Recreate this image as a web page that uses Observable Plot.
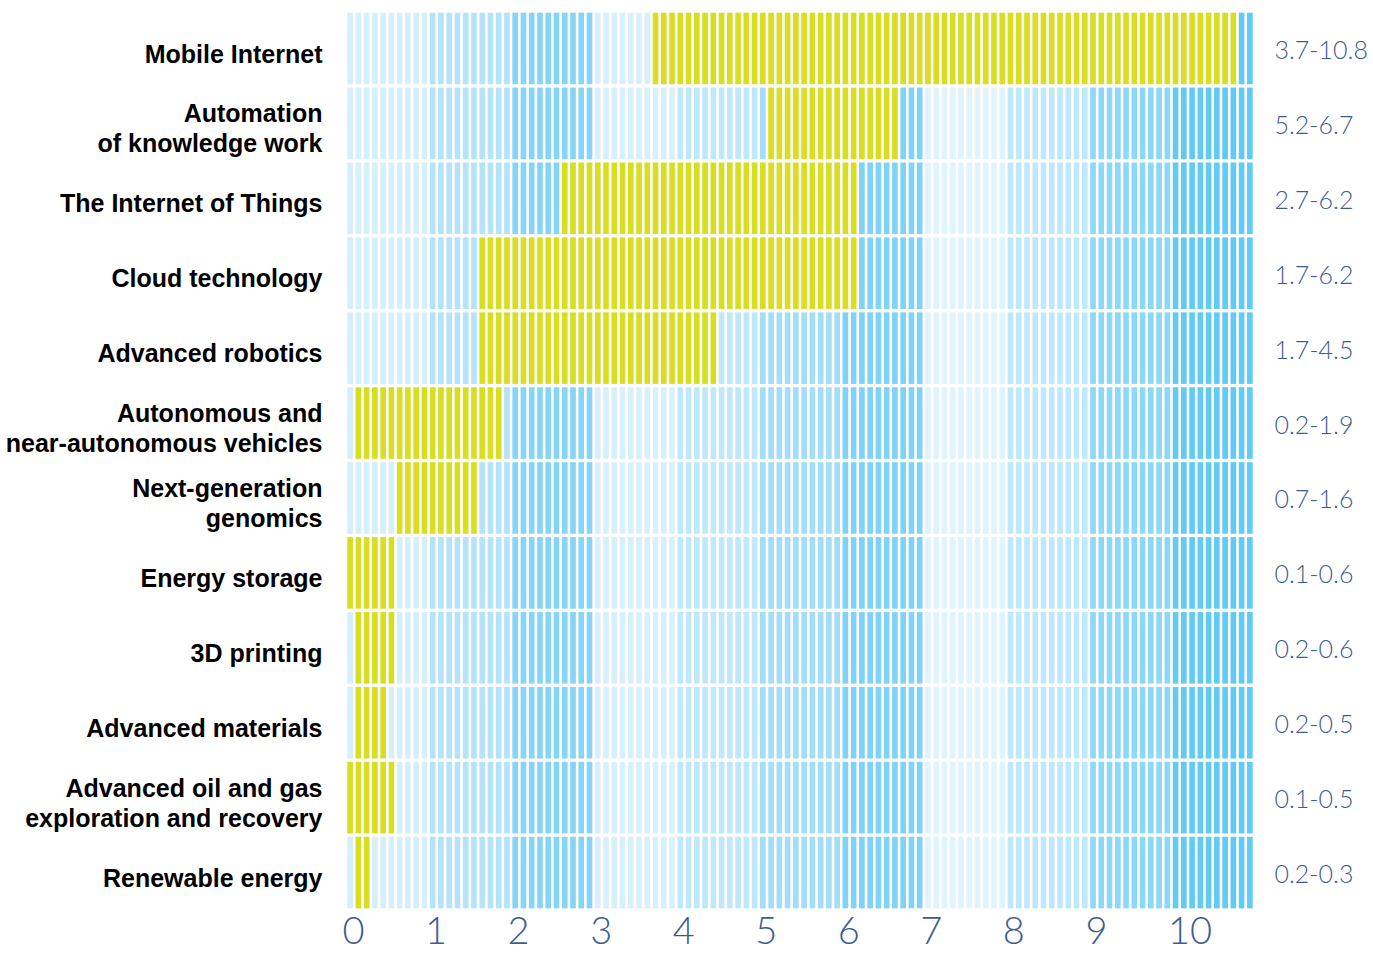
<!DOCTYPE html>
<html><head><meta charset="utf-8">
<script src="https://cdn.jsdelivr.net/npm/d3@7"></script>
<script src="https://cdn.jsdelivr.net/npm/@observablehq/plot@0.6"></script>
<style>body{margin:0;background:#fff}</style>
</head><body><div id="chart"></div>
<script>
const categories = [
  "Mobile Internet", "Automation of knowledge work", "The Internet of Things",
  "Cloud technology", "Advanced robotics", "Autonomous and near-autonomous vehicles",
  "Next-generation genomics", "Energy storage", "3D printing", "Advanced materials",
  "Advanced oil and gas exploration and recovery", "Renewable energy"
];
const categoryLabels = [
  "Mobile Internet", "Automation\nof knowledge work", "The Internet of Things",
  "Cloud technology", "Advanced robotics", "Autonomous and\nnear-autonomous vehicles",
  "Next-generation\ngenomics", "Energy storage", "3D printing", "Advanced materials",
  "Advanced oil and gas\nexploration and recovery", "Renewable energy"
];
const rangeLabels = ["3.7-10.8", "5.2-6.7", "2.7-6.2", "1.7-6.2", "1.7-4.5", "0.2-1.9",
  "0.7-1.6", "0.1-0.6", "0.2-0.6", "0.2-0.5", "0.1-0.5", "0.2-0.3"];
// highlighted span as drawn in the picture
const highlightStart = [3.7, 5.1, 2.6, 1.6, 1.6, 0.1, 0.6, 0.0, 0.1, 0.1, 0.0, 0.1];
const highlightEnd   = [10.8, 6.7, 6.2, 6.2, 4.5, 1.9, 1.6, 0.6, 0.6, 0.5, 0.6, 0.3];
const xTicks = [0, 1, 2, 3, 4, 5, 6, 7, 8, 9, 10];
const scaleMax = 11;
const step = 0.1;

const bandColors = ["#d6effc", "#b4e3fa", "#86d4f6", "#d8f0fc", "#bfe8fb", "#a3ddf8",
  "#80d2f6", "#e1f4fd", "#c0e8fb", "#8ed8f7", "#62cbf3"];
const highlightColor = "#d8df22";
const textBlue = "#3d5d8f";

const rows = categories.map((c, r) => ({cat: c, label: categoryLabels[r], range: rangeLabels[r]}));
const nCells = Math.round(scaleMax / step);
const cells = [];
categories.forEach((c, r) => {
  const s = Math.round(highlightStart[r] / step), e = Math.round(highlightEnd[r] / step);
  for (let i = 0; i < nCells; i++) {
    cells.push({
      cat: c, x1: i * step, x2: (i + 1) * step,
      fill: (i >= s && i < e) ? highlightColor : bandColors[Math.floor(i * step + 1e-9)]
    });
  }
});

const plot = Plot.plot({
  width: 1373, height: 953,
  marginLeft: 346, marginRight: 119, marginTop: 11, marginBottom: 43,
  x: {domain: [0, scaleMax], axis: null},
  y: {domain: categories, axis: null, padding: 0, round: false},
  color: {type: "identity"},
  marks: [
    Plot.barX(cells, {x1: "x1", x2: "x2", y: "cat", fill: "fill",
      insetLeft: 1.3, insetRight: 1.3, insetTop: 1.65, insetBottom: 1.65}),
    Plot.text(rows, {y: "cat", text: "label", frameAnchor: "left", textAnchor: "end",
      lineAnchor: "middle", dx: -24, dy: 4, lineHeight: 1.2, fontSize: 25, fontWeight: "bold",
      fontFamily: "'Liberation Sans', Arial, Helvetica, sans-serif", fill: "#000"}),
    Plot.text(rows, {y: "cat", text: "range", frameAnchor: "right", textAnchor: "start",
      lineAnchor: "middle", dx: 20, dy: 2, fontSize: 25, fontWeight: 300,
      fontFamily: "Lato, 'Open Sans', sans-serif", fill: textBlue}),
    Plot.text(xTicks, {x: d => d, text: d => String(d), frameAnchor: "bottom", textAnchor: "start",
      lineAnchor: "middle", dx: -4, dy: 21, fontSize: 38, fontWeight: 300,
      fontFamily: "Lato, 'Open Sans', sans-serif", fill: textBlue})
  ]
});
document.getElementById("chart").appendChild(plot);
</script>
</body></html>
